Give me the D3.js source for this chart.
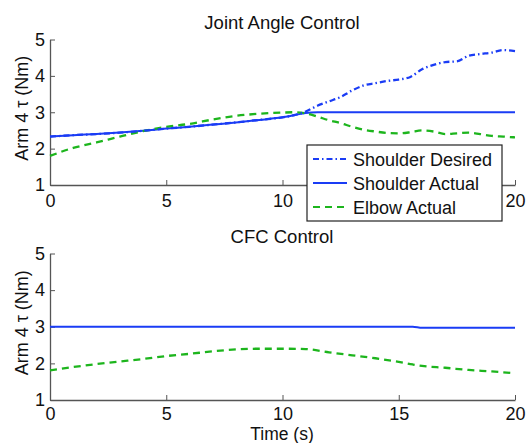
<!DOCTYPE html>
<html>
<head>
<meta charset="utf-8">
<script src="https://cdn.jsdelivr.net/npm/d3@7"></script>
<style>
  body { margin: 0; background: #fff; }
  svg text { font-family: "Liberation Sans", Arial, Helvetica, sans-serif; fill: #111; }
  .axis path, .axis line { stroke: #555; }
</style>
</head>
<body>
<div id="chart"></div>
<script>
// tick values
var xTicks = [0, 5, 10, 15, 20];
var yTicks = [1, 2, 3, 4, 5];

// Joint Angle Control
var jaTime = [0, 1, 2, 3, 4, 5, 6, 7, 8, 9, 10, 10.5, 11, 11.5, 12, 12.5, 13, 13.5, 14, 14.5, 15, 15.5, 16, 16.5, 17, 17.5, 18, 18.5, 19, 19.5, 20];
var jaShoulderDesired = [2.33, 2.37, 2.4, 2.44, 2.49, 2.55, 2.6, 2.66, 2.72, 2.79, 2.86, 2.92, 3.02, 3.18, 3.3, 3.42, 3.6, 3.74, 3.8, 3.86, 3.9, 3.97, 4.18, 4.3, 4.38, 4.4, 4.55, 4.6, 4.64, 4.71, 4.68];
var jaShoulderActual = [2.33, 2.37, 2.4, 2.44, 2.49, 2.55, 2.6, 2.66, 2.72, 2.79, 2.86, 2.92, 2.98, 3.0, 3.0, 3.0, 3.0, 3.0, 3.0, 3.0, 3.0, 3.0, 3.0, 3.0, 3.0, 3.0, 3.0, 3.0, 3.0, 3.0, 3.0];
var jaElbowActual = [1.8, 2.02, 2.17, 2.33, 2.48, 2.6, 2.68, 2.8, 2.9, 2.96, 2.99, 3.0, 2.97, 2.88, 2.78, 2.7, 2.6, 2.52, 2.47, 2.43, 2.42, 2.45, 2.5, 2.47, 2.4, 2.42, 2.44, 2.4, 2.35, 2.33, 2.31];

// CFC Control
var cfcTime = [0, 1, 2, 3, 4, 5, 6, 7, 8, 9, 10, 11, 12, 13, 14, 15, 15.6, 16, 17, 18, 19, 20];
var cfcShoulderActual = [3.0, 3.0, 3.0, 3.0, 3.0, 3.0, 3.0, 3.0, 3.0, 3.0, 3.0, 3.0, 3.0, 3.0, 3.0, 3.0, 3.0, 2.97, 2.97, 2.97, 2.97, 2.97];
var cfcElbowActual = [1.81, 1.9, 1.98, 2.05, 2.12, 2.2, 2.26, 2.33, 2.38, 2.4, 2.4, 2.39, 2.3, 2.22, 2.14, 2.04, 1.97, 1.93, 1.88, 1.82, 1.78, 1.73];

var legendNames = ["Shoulder Desired", "Shoulder Actual", "Elbow Actual"];

var width = 529, height = 443;
var blue = "#1a3cf5", green = "#1db51d";

var svg = d3.select("#chart").append("svg")
    .attr("width", width)
    .attr("height", height);

var x = d3.scaleLinear().domain([0, 20]).range([50, 515]);

// draw one panel
function panel(top, bottom, title, showXLabel) {
  var y = d3.scaleLinear().domain([1, 5]).range([bottom, top]);
  var g = svg.append("g");

  var xAxis = d3.axisBottom(x).tickValues(xTicks).tickFormat(d3.format("d"))
      .tickSizeInner(-5).tickSizeOuter(0).tickPadding(showXLabel ? 7 : 9);
  var yAxis = d3.axisLeft(y).tickValues(yTicks).tickFormat(d3.format("d"))
      .tickSizeInner(-5).tickSizeOuter(0).tickPadding(5);

  g.append("g").attr("class", "axis")
      .attr("transform", "translate(0," + bottom + ")")
      .call(xAxis)
      .call(s => s.selectAll("text").attr("font-size", 18).attr("fill", "#111"));
  g.append("g").attr("class", "axis")
      .attr("transform", "translate(50,0)")
      .call(yAxis)
      .call(s => s.selectAll("text").attr("font-size", 18).attr("fill", "#111"));
  g.selectAll(".axis path").attr("stroke-width", 1.3);

  g.append("text")
      .attr("x", 282).attr("y", top - 11)
      .attr("text-anchor", "middle")
      .attr("font-size", 18.5)
      .text(title);

  g.append("text")
      .attr("transform", "translate(28," + ((top + bottom) / 2 - 4) + ") rotate(-90)")
      .attr("text-anchor", "middle")
      .attr("font-size", 18)
      .text("Arm 4 \u03c4 (Nm)");

  if (showXLabel) {
    g.append("text")
        .attr("x", 282).attr("y", 440)
        .attr("text-anchor", "middle")
        .attr("font-size", 17.5)
        .text("Time (s)");
  }
  return {g: g, y: y};
}

function drawLine(p, t, v, color, dash) {
  var line = d3.line().x((d, i) => x(t[i])).y(d => p.y(d)).curve(d3.curveMonotoneX);
  p.g.append("path")
      .datum(v)
      .attr("fill", "none")
      .attr("stroke", color)
      .attr("stroke-width", dash ? 2.3 : 2)
      .attr("stroke-dasharray", dash)
      .attr("d", line);
}

var p1 = panel(39.5, 185, "Joint Angle Control", false);
drawLine(p1, jaTime, jaShoulderActual, blue, null);
drawLine(p1, jaTime, jaElbowActual, green, "7,5");
drawLine(p1, jaTime, jaShoulderDesired, blue, "6,3,1.5,3");
// the legend box hides the "15" label of the top panel
p1.g.selectAll(".axis .tick text").filter(d => d === 15).remove();

var p2 = panel(253.5, 400, "CFC Control", true);
drawLine(p2, cfcTime, cfcShoulderActual, blue, null);
drawLine(p2, cfcTime, cfcElbowActual, green, "7,5");

// legend
var lg = svg.append("g").attr("transform", "translate(307,145)");
lg.append("rect")
    .attr("width", 195).attr("height", 76)
    .attr("fill", "#fff").attr("stroke", "#222").attr("stroke-width", 1.2);
var styles = [[blue, "6,3,1.5,3"], [blue, null], [green, "7,5"]];
legendNames.forEach(function (name, i) {
  var yy = 14 + i * 24;
  lg.append("line")
      .attr("x1", 6).attr("x2", 40).attr("y1", yy).attr("y2", yy)
      .attr("stroke", styles[i][0]).attr("stroke-width", 2)
      .attr("stroke-dasharray", styles[i][1]);
  lg.append("text")
      .attr("x", 46).attr("y", yy + 7)
      .attr("font-size", 18)
      .text(name);
});
</script>
</body>
</html>
